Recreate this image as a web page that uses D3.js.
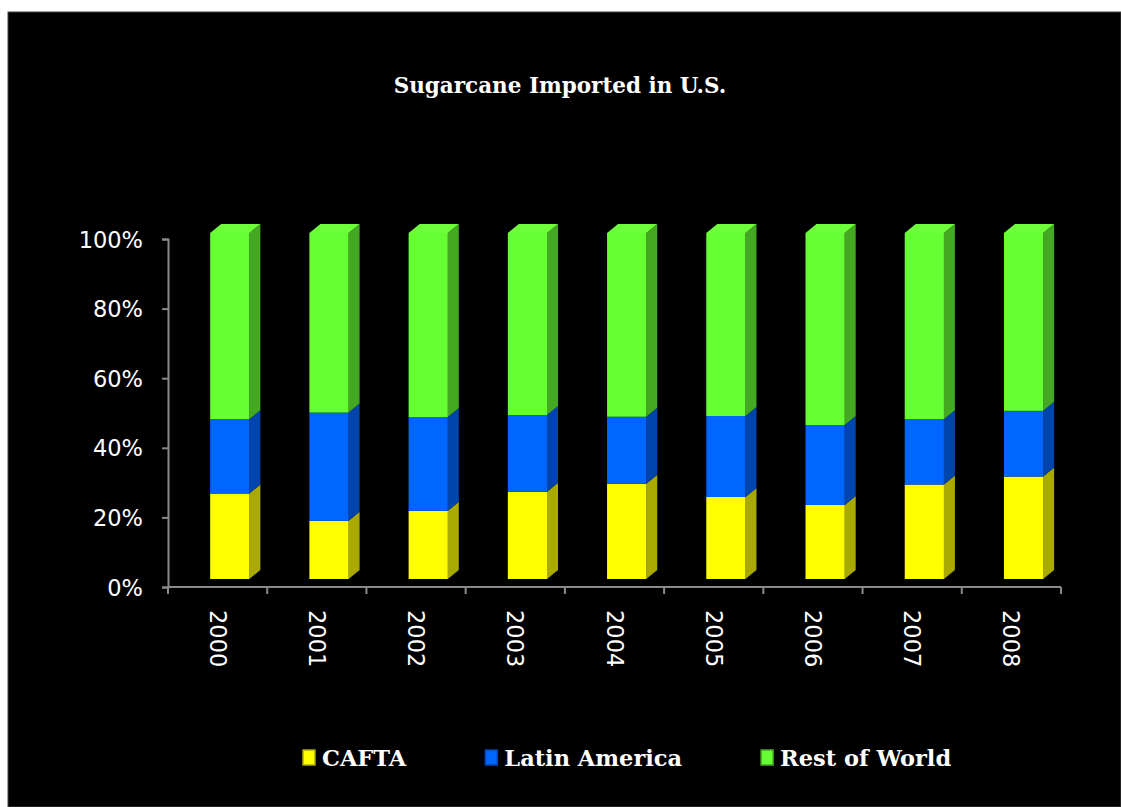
<!DOCTYPE html>
<html>
<head>
<meta charset="utf-8">
<script src="https://cdn.jsdelivr.net/npm/d3@7/dist/d3.min.js"></script>
<style>
  html, body { margin: 0; padding: 0; background: #ffffff; }
  svg { display: block; }
</style>
</head>
<body>
<svg id="chart" width="1121" height="807"></svg>
<script>
// ---- data ----
const title = "Sugarcane Imported in U.S.";
const years = ["2000", "2001", "2002", "2003", "2004", "2005", "2006", "2007", "2008"];
const seriesNames = ["CAFTA", "Latin America", "Rest of World"];
const cafta        = [24.7, 16.8, 19.7, 25.2, 27.5, 23.7, 21.4, 27.3, 29.6];
const latinAmerica = [21.5, 31.3, 27.1, 22.2, 19.4, 23.4, 23.1, 18.9, 19.0];
const restOfWorld  = [53.8, 51.9, 53.2, 52.6, 53.1, 52.9, 55.5, 53.8, 51.4];
const yTicks = [0, 20, 40, 60, 80, 100];

// ---- styles ----
const frontColors = ["#FFFF00", "#0066FF", "#66FF33"];
const sideColors  = ["#A9A900", "#0045AD", "#45A823"];
const topColor = "#6CFF3A";

const svg = d3.select("#chart");
svg.append("rect").attr("x", 8).attr("y", 12).attr("width", 1113).attr("height", 795)
  .attr("fill", "#000").attr("stroke", "#444").attr("stroke-width", 1);

// table
const table = years.map((y, i) => ({
  year: y, "CAFTA": cafta[i], "Latin America": latinAmerica[i], "Rest of World": restOfWorld[i]
}));
const stacked = d3.stack().keys(seriesNames)(table);

// scales
const x = d3.scaleBand().domain(years).range([168, 1061]).padding(0);
const yAxisScale = d3.scaleLinear().domain([0, 100]).range([587, 239]);
const yBar = d3.scaleLinear().domain([0, 100]).range([579, 233]);
const bw = x.bandwidth();
const frontX = d => x(d) + bw * 0.425;
const frontW = bw * 0.395;
const dx = 11, dy = -9;

// title
svg.append("text").attr("x", 560).attr("y", 93).attr("text-anchor", "middle")
  .attr("font-family", "'DejaVu Serif', serif").attr("font-weight", "bold")
  .attr("font-size", 21.5).attr("fill", "#fff").text(title);

// axes
const axisColor = "#8a8a8a";
const yAxis = d3.axisLeft(yAxisScale).tickValues(yTicks).tickFormat(d => d + "%").tickSize(6).tickPadding(19);
const gy = svg.append("g").attr("transform", "translate(168,0)").call(yAxis);
gy.select(".domain").attr("stroke", axisColor).attr("stroke-width", 2);
gy.selectAll(".tick line").attr("stroke", axisColor).attr("stroke-width", 2);
gy.selectAll(".tick text").attr("fill", "#fff").attr("font-family", "'DejaVu Sans', sans-serif")
  .attr("font-size", 22.5).attr("dy", "0.36em");

const gx = svg.append("g").attr("transform", "translate(0,587)");
gx.append("line").attr("x1", 168).attr("x2", 1061).attr("y1", 0).attr("y2", 0)
  .attr("stroke", axisColor).attr("stroke-width", 2);
const boundaries = years.map(d => x(d)).concat([x(years[years.length - 1]) + bw]);
gx.selectAll("line.tk").data(boundaries).join("line").attr("class", "tk")
  .attr("x1", d => d).attr("x2", d => d).attr("y1", 0).attr("y2", 7)
  .attr("stroke", axisColor).attr("stroke-width", 2);
gx.selectAll("text").data(years).join("text")
  .attr("transform", d => `translate(${x(d) + bw / 2},23) rotate(90)`)
  .attr("dominant-baseline", "central").attr("text-anchor", "start")
  .attr("font-family", "'DejaVu Sans', sans-serif").attr("font-size", 22.5)
  .attr("fill", "#fff").text(d => d);

// bars
const gBars = svg.append("g");
stacked.forEach((layer, si) => {
  const g = gBars.append("g");
  layer.forEach(seg => {
    const yr = seg.data.year;
    const xl = frontX(yr), xr = xl + frontW;
    const yb = yBar(seg[0]), yt = yBar(seg[1]);
    g.append("polygon")
      .attr("points", [[xr, yb], [xr + dx, yb + dy], [xr + dx, yt + dy], [xr, yt]].map(p => p.join(",")).join(" "))
      .attr("fill", sideColors[si]);
    g.append("rect").attr("x", xl).attr("y", yt).attr("width", frontW).attr("height", yb - yt)
      .attr("fill", frontColors[si]);
    if (si === stacked.length - 1) {
      g.append("polygon")
        .attr("points", [[xl, yt], [xr, yt], [xr + dx, yt + dy], [xl + dx, yt + dy]].map(p => p.join(",")).join(" "))
        .attr("fill", topColor);
    }
  });
});

// legend
const lg = svg.append("g").attr("transform", "translate(303,758)");
let cx = 0;
seriesNames.forEach((name, i) => {
  const item = lg.append("g").attr("transform", `translate(${cx},0)`);
  item.append("rect").attr("x", 0).attr("y", -8).attr("width", 12).attr("height", 15)
    .attr("fill", frontColors[i]).attr("stroke", sideColors[i]).attr("stroke-width", 1.5);
  const t = item.append("text").attr("x", 19).attr("y", 0).attr("dy", "0.36em")
    .attr("font-family", "'DejaVu Serif', serif").attr("font-weight", "bold")
    .attr("font-size", 22.5).attr("fill", "#fff").text(name);
  cx += 19 + t.node().getComputedTextLength() + 79;
});
</script>
</body>
</html>
